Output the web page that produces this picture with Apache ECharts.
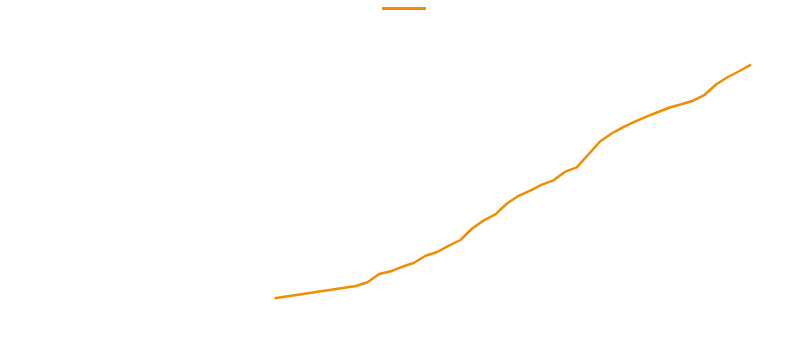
<!DOCTYPE html>
<html>
<head>
<meta charset="utf-8">
<script src="https://cdn.jsdelivr.net/npm/echarts@6/dist/echarts.min.js"></script>
<style>
  html, body { margin: 0; padding: 0; background: #fff; }
  #chart { width: 800px; height: 345px; }
</style>
</head>
<body>
<div id="chart"></div>
<script>
  // 年份与数值
  var years = [];
  for (var y = 1980; y <= 2021; y++) years.push(y);
  var values = [
    21.7, 23.5, 25.3, 27.0, 28.8, 30.5, 32.3, 34.0, 37.7, 46.0,
    48.7, 53.3, 57.3, 64.2, 68.0, 74.3, 80.0, 91.5, 99.6, 105.6,
    116.5, 124.2, 129.4, 135.3, 139.7, 148.3, 152.7, 165.5, 178.5, 186.5,
    192.8, 198.3, 203.3, 208.0, 212.5, 215.8, 219.3, 225.2, 235.7, 243.0,
    249.0, 255.3
  ];
  var seriesName = 'series';

  var myChart = echarts.init(document.getElementById('chart'));
  var option = {
    animation: false,
    legend: {
      top: 2,
      left: 377,
      itemWidth: 44,
      itemHeight: 3,
      icon: 'rect',
      formatter: function () { return ''; },
      data: [seriesName]
    },
    grid: { left: 42, right: 14, top: 30, bottom: 25 },
    xAxis: {
      type: 'value',
      min: 1960,
      max: 2024,
      show: false
    },
    yAxis: {
      type: 'value',
      min: 0,
      max: 290,
      show: false
    },
    series: [
      {
        name: seriesName,
        type: 'line',
        symbol: 'none',
        color: '#F28C00',
        lineStyle: { width: 2.5, color: '#F28C00' },
        data: years.map(function (yr, i) { return [yr, values[i]]; })
      }
    ]
  };
  myChart.setOption(option);
</script>
</body>
</html>
